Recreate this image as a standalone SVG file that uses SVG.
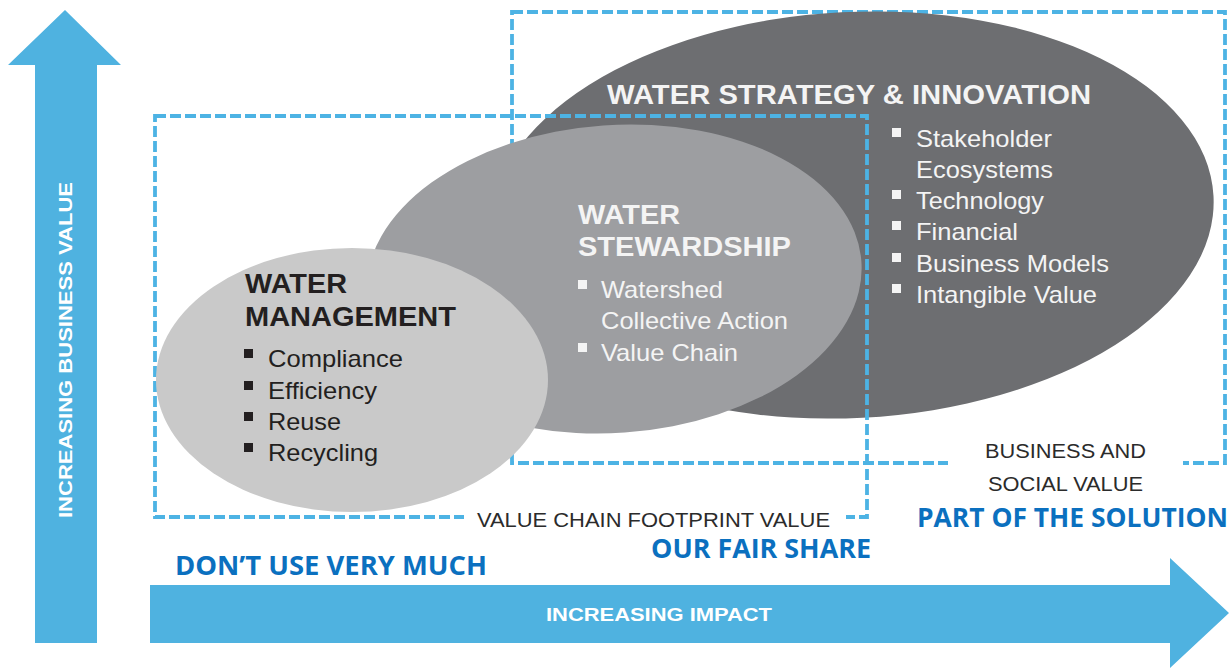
<svg xmlns="http://www.w3.org/2000/svg" width="1232" height="668" viewBox="0 0 1232 668">
  <style>
    .dash { fill: none; stroke: #4db3e4; stroke-width: 3.8; stroke-dasharray: 11 4; }
    .arrow { fill: #4fb2e0; }
    .axis { font-family: "Liberation Sans", Arial, sans-serif; font-weight: bold; font-size: 19px; fill: #ffffff; }
    .head { font-family: "Liberation Sans", Arial, sans-serif; font-weight: bold; font-size: 27px; }
    .item { font-family: "Liberation Sans", Arial, sans-serif; font-size: 24px; }
    .lbl { font-family: "Liberation Sans", Arial, sans-serif; font-size: 20px; fill: #2b2b2b; }
    .stage { font-family: "Open Sans", "Liberation Sans", sans-serif; font-weight: bold; font-size: 26px; fill: #0b70bf; }
    .light { fill: #f4f4f4; }
    .darktxt { fill: #231f20; }
  </style>

  <rect width="1232" height="668" fill="#ffffff"/>

  <!-- axes -->
  <g id="axis-business-value">
    <polygon class="arrow" points="35,643 97,643 97,65 121,65 65,10 8,65 35,65"/>
    <text class="axis" transform="translate(72,350) rotate(-90)" text-anchor="middle" textLength="336" lengthAdjust="spacingAndGlyphs">INCREASING BUSINESS VALUE</text>
  </g>
  <g id="axis-impact">
    <polygon class="arrow" points="150,585 1170,585 1170,558 1229,613 1170,668 1170,643 150,643"/>
    <text class="axis" x="546" y="621" textLength="226" lengthAdjust="spacingAndGlyphs">INCREASING IMPACT</text>
  </g>

  <!-- outer frame: business and social value -->
  <g id="frame-social">
    <rect class="dash" x="512" y="12" width="713" height="451"/>
  </g>

  <!-- strategy & innovation -->
  <g id="node-strategy">
    <ellipse cx="852" cy="215" rx="362" ry="203" fill="#6d6e71" transform="rotate(-3 852 215)"/>
    <text class="head light" x="607" y="104" textLength="484" lengthAdjust="spacingAndGlyphs">WATER STRATEGY &amp; INNOVATION</text>
    <g class="light">
      <rect x="892" y="128" width="9" height="9"/>
      <rect x="892" y="190" width="9" height="9"/>
      <rect x="892" y="221" width="9" height="9"/>
      <rect x="892" y="253" width="9" height="9"/>
      <rect x="892" y="284" width="9" height="9"/>
    </g>
    <text class="item light" x="916" y="147" textLength="136" lengthAdjust="spacingAndGlyphs">Stakeholder</text>
    <text class="item light" x="916" y="178" textLength="137" lengthAdjust="spacingAndGlyphs">Ecosystems</text>
    <text class="item light" x="916" y="209" textLength="128" lengthAdjust="spacingAndGlyphs">Technology</text>
    <text class="item light" x="916" y="240" textLength="102" lengthAdjust="spacingAndGlyphs">Financial</text>
    <text class="item light" x="916" y="272" textLength="193" lengthAdjust="spacingAndGlyphs">Business Models</text>
    <text class="item light" x="916" y="303" textLength="181" lengthAdjust="spacingAndGlyphs">Intangible Value</text>
  </g>

  <!-- inner frame: value chain footprint value -->
  <g id="frame-footprint">
    <rect class="dash" x="155" y="116" width="712" height="401"/>
  </g>

  <!-- stewardship -->
  <g id="node-stewardship">
    <ellipse cx="614" cy="279" rx="248" ry="154" fill="#9d9ea1" transform="rotate(-4 614 279)"/>
    <text class="head light" x="578" y="224" textLength="102" lengthAdjust="spacingAndGlyphs">WATER</text>
    <text class="head light" x="578" y="256" textLength="213" lengthAdjust="spacingAndGlyphs">STEWARDSHIP</text>
    <g class="light">
      <rect x="578" y="280" width="9" height="9"/>
      <rect x="578" y="343" width="9" height="9"/>
    </g>
    <text class="item light" x="601" y="298" textLength="122" lengthAdjust="spacingAndGlyphs">Watershed</text>
    <text class="item light" x="601" y="329" textLength="187" lengthAdjust="spacingAndGlyphs">Collective Action</text>
    <text class="item light" x="601" y="361" textLength="137" lengthAdjust="spacingAndGlyphs">Value Chain</text>
  </g>

  <!-- management -->
  <g id="node-management">
    <ellipse cx="352" cy="380" rx="196" ry="132" fill="#c9c9c9"/>
    <text class="head darktxt" x="245" y="293" textLength="102" lengthAdjust="spacingAndGlyphs">WATER</text>
    <text class="head darktxt" x="245" y="326" textLength="211" lengthAdjust="spacingAndGlyphs">MANAGEMENT</text>
    <g class="darktxt">
      <rect x="244" y="349" width="9" height="9"/>
      <rect x="244" y="381" width="9" height="9"/>
      <rect x="244" y="412" width="9" height="9"/>
      <rect x="244" y="443" width="9" height="9"/>
    </g>
    <text class="item darktxt" x="268" y="367" textLength="135" lengthAdjust="spacingAndGlyphs">Compliance</text>
    <text class="item darktxt" x="268" y="399" textLength="109" lengthAdjust="spacingAndGlyphs">Efficiency</text>
    <text class="item darktxt" x="268" y="430" textLength="73" lengthAdjust="spacingAndGlyphs">Reuse</text>
    <text class="item darktxt" x="268" y="461" textLength="110" lengthAdjust="spacingAndGlyphs">Recycling</text>
  </g>

  <!-- frame labels -->
  <g id="label-footprint">
    <rect x="464" y="505" width="382" height="44" fill="#ffffff"/>
    <text class="lbl" x="477" y="527" textLength="353" lengthAdjust="spacingAndGlyphs">VALUE CHAIN FOOTPRINT VALUE</text>
  </g>
  <g id="label-social">
    <rect x="948" y="437" width="235" height="63" fill="#ffffff"/>
    <text class="lbl" x="985" y="458" textLength="161" lengthAdjust="spacingAndGlyphs">BUSINESS AND</text>
    <text class="lbl" x="988" y="491" textLength="155" lengthAdjust="spacingAndGlyphs">SOCIAL VALUE</text>
  </g>

  <!-- stage captions -->
  <g id="stage-captions">
    <text class="stage" x="175" y="575" textLength="312" lengthAdjust="spacingAndGlyphs">DON’T USE VERY MUCH</text>
    <text class="stage" x="651" y="558" textLength="220" lengthAdjust="spacingAndGlyphs">OUR FAIR SHARE</text>
    <text class="stage" x="917" y="527" textLength="311" lengthAdjust="spacingAndGlyphs">PART OF THE SOLUTION</text>
  </g>
</svg>
